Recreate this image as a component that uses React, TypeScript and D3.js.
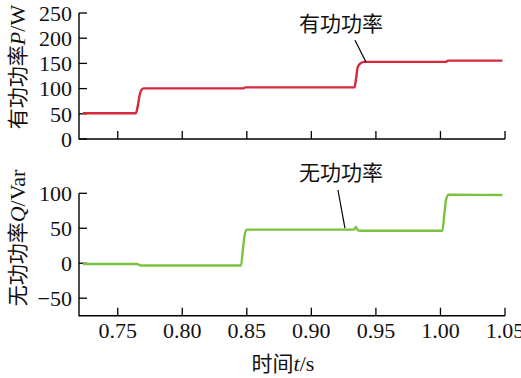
import React from "react";
import * as d3 from "d3";

// Active power P (W): time (s) and value
const pTimes = [0.723, 0.745, 0.764, 0.7655, 0.767, 0.7685, 0.770, 0.800, 0.847, 0.849, 0.880, 0.9335, 0.9345, 0.936, 0.938, 0.941, 0.970, 1.004, 1.006, 1.048];
const pValues = [51, 51, 51, 65, 88, 98, 100.5, 100.5, 100.5, 102.5, 102.5, 102.5, 118, 143, 150, 153, 153, 153, 155.5, 155.5];

// Reactive power Q (Var): time (s) and value
const qTimes = [0.723, 0.750, 0.765, 0.768, 0.800, 0.8455, 0.847, 0.8485, 0.850, 0.880, 0.933, 0.9345, 0.936, 0.938, 0.970, 1.0015, 1.003, 1.0045, 1.0065, 1.048];
const qValues = [-1, -1, -1, -3.2, -3.2, -3.2, 20, 42, 48, 48, 48, 52, 47, 46.5, 46.5, 46.5, 70, 92, 98, 97.5];

const xTicks = [0.75, 0.8, 0.85, 0.9, 0.95, 1.0, 1.05];
const pTicks = [0, 50, 100, 150, 200, 250];
const qTicks = [-50, 0, 50, 100];

const pLabel = "有功功率";
const qLabel = "无功功率";

const W = 521;
const H = 378;
const LATIN = "Liberation Serif, Times New Roman, DejaVu Serif, serif";
const CJK = "Noto Sans CJK SC";
const FS = 22;

export default function App() {
  const x = d3.scaleLinear().domain([0.72, 1.05]).range([79, 505]);
  const yP = d3.scaleLinear().domain([0, 250]).range([139, 13]);
  const yQ = d3.scaleLinear().domain([-75, 100]).range([315.7, 193.3]);

  const pData = pTimes.map((t, i) => [t, pValues[i]] as [number, number]);
  const qData = qTimes.map((t, i) => [t, qValues[i]] as [number, number]);

  const lineP = d3.line<[number, number]>().x(d => x(d[0])).y(d => yP(d[1])).curve(d3.curveMonotoneX);
  const lineQ = d3.line<[number, number]>().x(d => x(d[0])).y(d => yQ(d[1])).curve(d3.curveMonotoneX);

  const axisColor = "#000";
  const tickLen = 8;

  const renderPanel = (y: d3.ScaleLinear<number, number>, ticks: number[], showXLabels: boolean) => {
    const [y0, y1] = y.range();
    const fmt = (v: number) => (v < 0 ? "\u2212" + Math.abs(v) : String(v));
    return (
      <g>
        <line x1={x.range()[0]} x2={x.range()[0]} y1={y0 + 0.5} y2={y1} stroke={axisColor} strokeWidth={1.4} />
        <line x1={x.range()[0]} x2={x.range()[1]} y1={y0} y2={y0} stroke={axisColor} strokeWidth={1.4} />
        {ticks.map(v => (
          <g key={"y" + v}>
            <line x1={x.range()[0]} x2={x.range()[0] + tickLen} y1={y(v)} y2={y(v)} stroke={axisColor} strokeWidth={1.3} />
            <text x={x.range()[0] - 7} y={y(v)} dy="0.35em" textAnchor="end" style={{ fontFamily: LATIN }} fontSize={FS} fill="#111">
              {fmt(v)}
            </text>
          </g>
        ))}
        {xTicks.map(v => (
          <g key={"x" + v}>
            <line x1={x(v)} x2={x(v)} y1={y0} y2={y0 - tickLen} stroke={axisColor} strokeWidth={1.3} />
            {showXLabels && (
              <text x={x(v)} y={y0 + 22} textAnchor="middle" style={{ fontFamily: LATIN }} fontSize={FS} fill="#111">
                {v.toFixed(2)}
              </text>
            )}
          </g>
        ))}
      </g>
    );
  };

  return (
    <svg width={W} height={H} style={{ position: "absolute", left: 0, top: 0, background: "#fff" }}>
      <rect x={0} y={0} width={W} height={H} fill="#fff" />
      {renderPanel(yP, pTicks, false)}
      {renderPanel(yQ, qTicks, true)}

      <path d={lineP(pData) || ""} fill="none" stroke="#d42a3c" strokeWidth={2.4} strokeLinejoin="round" />
      <path d={lineQ(qData) || ""} fill="none" stroke="#7cc241" strokeWidth={2.4} strokeLinejoin="round" />

      {/* annotations */}
      <text x={341} y={31} textAnchor="middle" style={{ fontFamily: CJK }} fontSize={FS - 1} fill="#111">{pLabel}</text>
      <line x1={x(0.9338)} y1={yP(196)} x2={x(0.9423)} y2={yP(152.8)} stroke="#000" strokeWidth={1.2} />
      <text x={341} y={180} textAnchor="middle" style={{ fontFamily: CJK }} fontSize={FS - 1} fill="#111">{qLabel}</text>
      <line x1={x(0.9206)} y1={yQ(104.7)} x2={x(0.926)} y2={yQ(50.3)} stroke="#000" strokeWidth={1.2} />

      {/* axis titles */}
      <text transform="translate(25,67) rotate(-90)" textAnchor="middle" fontSize={FS} fill="#111">
        <tspan style={{ fontFamily: CJK }} fontSize={FS - 1}>有功功率</tspan>
        <tspan style={{ fontFamily: LATIN }} fontStyle="italic">P</tspan>
        <tspan style={{ fontFamily: LATIN }}>/W</tspan>
      </text>
      <text transform="translate(25,238) rotate(-90)" textAnchor="middle" fontSize={FS} fill="#111">
        <tspan style={{ fontFamily: CJK }} fontSize={FS - 1}>无功功率</tspan>
        <tspan style={{ fontFamily: LATIN }} fontStyle="italic">Q</tspan>
        <tspan style={{ fontFamily: LATIN }}>/Var</tspan>
      </text>
      <text x={283} y={371} textAnchor="middle" fontSize={FS} fill="#111">
        <tspan style={{ fontFamily: CJK }} fontSize={FS - 1}>时间</tspan>
        <tspan style={{ fontFamily: LATIN }} fontStyle="italic">t</tspan>
        <tspan style={{ fontFamily: LATIN }}>/s</tspan>
      </text>
    </svg>
  );
}
